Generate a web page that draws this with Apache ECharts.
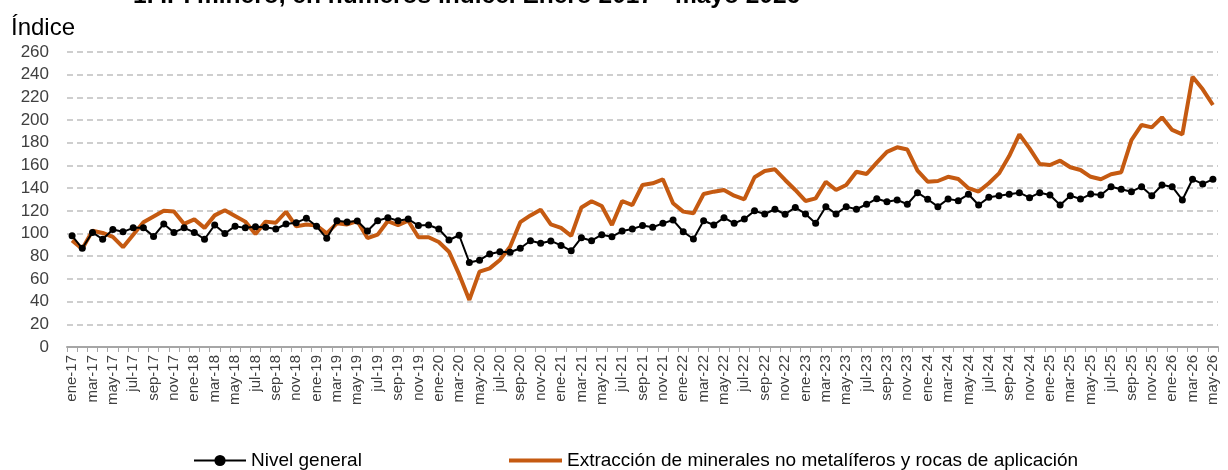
<!DOCTYPE html>
<html>
<head>
<meta charset="utf-8">
<script src="https://cdn.jsdelivr.net/npm/echarts@6/dist/echarts.min.js"></script>
<style>
  html, body { margin: 0; padding: 0; background: #fff; }
  #main { width: 1228px; height: 470px; }
</style>
</head>
<body>
<div id="main"></div>
<script>
  // meses ene-17 ... may-26
  var mesesAbr = ['ene','feb','mar','abr','may','jun','jul','ago','sep','oct','nov','dic'];
  var meses = [];
  for (var a = 17; a <= 26; a++) {
    for (var m = 0; m < 12; m++) {
      if (a === 26 && m > 4) break;
      meses.push(mesesAbr[m] + '-' + a);
    }
  }

  var nivelGeneral = [
    98, 87, 101, 95, 103.5, 101.5, 105, 105, 97.5, 108.5, 101, 105,
    101, 95, 107.5, 100, 106.5, 105, 106, 105.5, 104, 108.4, 109.6, 113.4,
    106.4, 95.8, 111.3, 110.2, 111, 102.2, 111.3, 114, 111.3, 112.8, 107, 107.5,
    104, 94.3, 98.5, 74.5, 76.5, 82, 84, 83.5, 87, 93.7, 91.4, 93.5,
    89.5, 84.8, 96.3, 93.7, 99, 97.2, 102.2, 104, 107, 105.5, 109, 111.9,
    101.6, 95.2, 111.3, 107.5, 114, 109, 112.8, 120, 117.2, 121.4, 117, 123,
    117.2, 109, 123.7, 117.2, 123.7, 121.4, 125.8, 130.7, 128, 129.6, 125.8, 136,
    130.2, 123.7, 130.4, 129, 134.6, 125.2, 131.9, 133.4, 134.6, 136, 131.6, 136,
    134, 125.2, 133.4, 130.4, 134.8, 134, 141.3, 139, 136.9, 141.3, 133.4, 142.8,
    141.3, 129.6, 147.8, 143.7, 147.8
  ];

  var extraccion = [
    94, 86.5, 102.5, 100.5, 97, 88, 99, 110, 115, 120, 119.5, 108.5,
    112.5, 105, 116, 120.5, 115.5, 110.5, 99.5, 110.5, 109.5, 119.2, 106.3, 108,
    107, 100.2, 109, 108, 111, 96, 99, 111, 107.3, 111.3, 96.7, 96.7,
    92.5, 84, 64, 41.5, 66.4, 69.3, 76.7, 88.4, 110, 116, 121, 108,
    105, 98, 123, 128.5, 124.3, 107.5, 128.7, 125, 142.8, 144.3, 147.8, 126.7,
    119.3, 117.8, 134.8, 136.9, 138.4, 133.4, 130.2, 149.6, 155.1, 156.6, 147.2, 138.4,
    128.7, 131, 145.7, 138.4, 142.8, 154.5, 152.5, 162.5, 172, 176, 174, 155.5,
    145.7, 146.3, 150, 148, 140, 137, 144.3, 153, 168.3, 187.4, 175, 161.3,
    160.4, 164.2, 158.4, 156, 150, 147.8, 152.2, 154, 182.4, 195.7, 193.6, 202.4,
    191.3, 187.4, 238.2, 227.1, 213.3
  ];

  var nombres = ['Nivel general', 'Extracción de minerales no metalíferos y rocas de aplicación'];

  var fuente = '"Liberation Sans", Arial, sans-serif';
  var myChart = echarts.init(document.getElementById('main'));
  myChart.setOption({
    animation: false,
    textStyle: { fontFamily: fuente },
    title: [
      {
        text: '1. IPI minero, en números índice. Enero 2017 - mayo 2026',
        left: 128,
        top: -21,
        textStyle: { fontSize: 24.5, fontWeight: 'bold', color: '#000', fontFamily: fuente }
      },
      {
        text: 'Índice',
        left: 6,
        top: 11,
        textStyle: { fontSize: 24, fontWeight: 'normal', color: '#000', fontFamily: fuente }
      }
    ],
    legend: [
      {
        data: [nombres[0]],
        left: 188,
        top: 446,
        itemWidth: 52,
        itemHeight: 14,
        textStyle: { fontSize: 19, color: '#000', fontFamily: fuente }
      },
      {
        data: [{ name: nombres[1], icon: 'rect' }],
        left: 504,
        top: 446,
        itemWidth: 53,
        itemHeight: 4,
        textStyle: { fontSize: 19, color: '#000', fontFamily: fuente }
      }
    ],
    grid: { left: 67, right: 10, top: 52, bottom: 123, containLabel: false },
    xAxis: {
      type: 'category',
      data: meses,
      boundaryGap: true,
      axisLine: { lineStyle: { color: '#a6a6a6', width: 2 } },
      axisTick: { show: true, interval: 0, length: 5, lineStyle: { color: '#a6a6a6' } },
      axisLabel: { interval: 1, rotate: 90, fontSize: 15, color: '#404040', margin: 8 }
    },
    yAxis: {
      type: 'value',
      min: 0,
      max: 260,
      interval: 20,
      axisLine: { show: false },
      axisTick: { show: false },
      axisLabel: { fontSize: 17, color: '#404040', margin: 18 },
      splitLine: { lineStyle: { color: '#bfbfbf', type: [6, 4], width: 1.5 } }
    },
    series: [
      {
        name: nombres[0],
        type: 'line',
        data: nivelGeneral,
        symbol: 'circle',
        symbolSize: 7,
        showAllSymbol: true,
        lineStyle: { color: '#000', width: 2 },
        itemStyle: { color: '#000' },
        z: 3
      },
      {
        name: nombres[1],
        type: 'line',
        data: extraccion,
        symbol: 'none',
        lineStyle: { color: '#c55a11', width: 4 },
        itemStyle: { color: '#c55a11' },
        z: 2
      }
    ]
  });
</script>
</body>
</html>
